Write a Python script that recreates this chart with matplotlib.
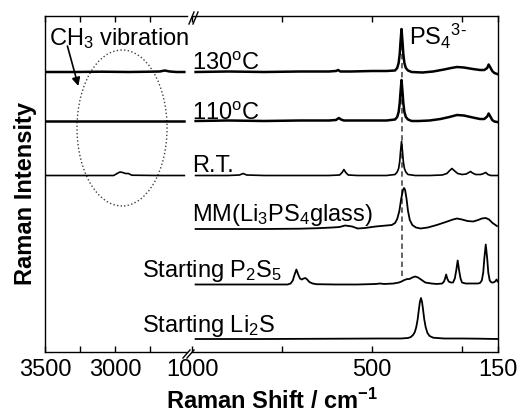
import numpy as np
import matplotlib
matplotlib.use('Agg')
import matplotlib.pyplot as plt
from matplotlib.patches import Ellipse
from matplotlib.lines import Line2D

plt.rcParams['font.family'] = ['Liberation Sans', 'DejaVu Sans']
plt.rcParams['mathtext.fontset'] = 'custom'
plt.rcParams['mathtext.rm'] = 'Liberation Sans'
plt.rcParams['mathtext.it'] = 'Liberation Sans:italic'
plt.rcParams['mathtext.bf'] = 'Liberation Sans:bold'

# ---- data (Raman shift in cm-1, intensity in arbitrary units above each baseline) ----
labels = ['130$^{\\mathrm{o}}$C', '110$^{\\mathrm{o}}$C', 'R.T.',
          'MM(Li$_3$PS$_4$glass)', 'Starting P$_2$S$_5$', 'Starting Li$_2$S']
offsets = [280, 231, 176.5, 123, 67.5, 13]

# high wavenumber part (C-H region), only the three heated/RT samples
hi_x130 = [3500, 3300, 3100, 2900, 2750, 2680, 2645, 2610, 2560, 2505]
hi_y130 = [0, 0, 0.3, 0, 0.3, 0.5, 1.5, 0.5, 0, 0]
hi_x110 = [3500, 3300, 3100, 2900, 2700, 2505]
hi_y110 = [0, 0, 0, 0, 0, 0]
hi_xrt = [3500, 3100, 3010, 2985, 2965, 2945, 2925, 2905, 2880, 2700, 2505]
hi_yrt = [0, 0, 0, 2, 3.5, 3, 2, 2, 0.3, 0, 0]

# low wavenumber part
x130 = [990, 900, 800, 700, 620, 600, 594, 588, 560, 500, 460, 436, 430, 426, 423, 421, 418, 415, 413,
        410, 406, 400, 390, 360, 330, 300, 280, 264, 245, 220, 200, 188, 180, 176, 172, 166, 160, 152]
y130 = [0, 0.5, 0, 0.5, 0.5, 1, 2, 0.5, 0.5, 1, 1, 1.5, 4, 9, 18, 29, 43, 29, 18,
        9, 4, 1.5, 0, -0.5, 0.5, 2.5, 4, 5, 4.5, 3, 2, 2, 4, 7.5, 5, 1, -1, -2]

x110 = [990, 900, 800, 700, 620, 600, 592, 586, 578, 540, 500, 460, 436, 430, 426, 423, 421, 418, 415,
        413, 410, 406, 400, 390, 370, 340, 310, 285, 264, 245, 220, 200, 188, 180, 176, 172, 166, 160, 152]
y110 = [0, 0.5, 0, 0.5, 0.5, 1, 3, 1.5, 0.5, 0.5, 0.5, 0.5, 1.5, 4, 9, 18, 28, 41, 28,
        18, 9, 4, 1.5, 0, 0, 0.5, 2, 4, 6, 5.5, 3.5, 2, 2, 4.5, 7.5, 5, 1, -0.5, -1]

xrt = [990, 900, 868, 858, 848, 800, 700, 620, 590, 583, 578, 573, 566, 540, 500, 460, 436, 430, 426,
       423, 421, 418, 415, 413, 410, 406, 400, 380, 340, 305, 292, 284, 278, 272, 262, 250, 238, 231,
       226, 221, 212, 198, 190, 184, 178, 170, 152]
yrt = [0, 0, 0.5, 2, 0.5, 0, 0, 0, 0.5, 3, 6, 3, 0.5, 0, 0, 0, 1, 3.5, 7,
       14, 23, 34, 23, 14, 7, 3.5, 1, 0, 0, 0.5, 2, 5, 7, 5, 2, 1, 1.5, 3,
       4, 2.5, 1, 1, 2, 3, 1, 0, 0]

xmm = [990, 900, 800, 700, 650, 610, 590, 575, 555, 540, 520, 490, 460, 445, 436, 430, 424, 419, 414,
       411, 408, 404, 400, 395, 388, 378, 365, 345, 320, 295, 275, 264, 250, 235, 219, 205, 195, 184,
       175, 165, 153]
ymm = [0, 0, 0, 0.3, 0.8, 1.5, 2, 3.5, 2.5, 0.5, 1, 2.5, 3.5, 4, 6, 10, 18, 30, 39,
       41, 39, 30, 18, 9, 4, 1.5, 0.5, 1.5, 4, 7, 9.5, 10.5, 9.5, 8, 7.5, 9, 10.5, 11,
       9.5, 6, 3]

xp2s5 = [990, 900, 800, 735, 726, 720, 715, 710, 705, 700, 695, 690, 685, 680, 674, 665, 654, 600,
         540, 490, 478, 466, 440, 425, 418, 410, 402, 396, 388, 380, 372, 362, 352, 335, 320, 305,
         300, 297, 294, 291, 287, 281, 275, 270, 266, 262, 258, 254, 250, 240, 220, 206, 200, 195,
         191, 188, 184, 180, 177, 173, 168, 163, 158, 154, 151]
yp2s5 = [0, 0, 0, 0, 1, 4, 10, 15, 10, 6, 5, 6, 6.5, 5, 2.5, 1, 0.3, 0,
         0, 0.5, 1, 0.5, 1, 2, 3, 4.5, 5.5, 5.5, 7, 8, 7, 4.5, 2, 1, 0.5, 1,
         3, 6, 10, 6, 3, 2, 2, 6, 14, 24, 14, 6, 2, 1, 1, 1, 1.5, 4,
         12, 26, 40, 26, 12, 4, 2, 2, 3, 5, 3]

xli2s = [990, 800, 600, 480, 420, 400, 392, 386, 381, 377, 373, 370, 367, 364, 361, 358, 355, 351,
         346, 340, 330, 300, 250, 200, 152]
yli2s = [0, 0, 0.3, 0.5, 0.5, 1, 2, 4, 7, 12, 20, 29, 37, 41, 37, 29, 20, 12,
         6, 3, 1.3, 0.5, 0.5, 0.3, 0]

ps4_shift = 418

hi_series = [(hi_x130, hi_y130), (hi_x110, hi_y110), (hi_xrt, hi_yrt)]
lo_series = [(x130, y130), (x110, y110), (xrt, yrt), (xmm, ymm), (xp2s5, yp2s5), (xli2s, yli2s)]
widths = [1.8, 1.8, 1.2, 1.3, 1.3, 1.3]

# ---- figure ----
W, H = 520, 414
fig = plt.figure(figsize=(W / 100, H / 100), dpi=100)
ax1 = fig.add_axes([45 / W, 1 - 353 / H, (187 - 45) / W, 336 / H])
ax2 = fig.add_axes([192 / W, 1 - 353 / H, (498 - 192) / W, 336 / H])
ax1.patch.set_visible(False)
ax2.patch.set_visible(False)

for i, (x, y) in enumerate(hi_series):
    ax1.plot(x, np.array(y) + offsets[i], color='k', lw=widths[i])
for i, (x, y) in enumerate(lo_series):
    ax2.plot(x, np.array(y) + offsets[i], color='k', lw=widths[i])

# dashed guide at the PS4 3- band
ax2.plot([ps4_shift, ps4_shift], [offsets[4] + 8.5, offsets[0] + 43], color='0.35',
         ls=(0, (3, 2)), lw=1.3, zorder=1)

ax1.set_xlim(3500, 2486)
ax2.set_xlim(1000, 150)
for ax in (ax1, ax2):
    ax.set_ylim(0, 336)
    ax.set_yticks([])
    ax.tick_params(axis='x', direction='in', top=True, length=4, width=1,
                   labelsize=17, pad=4)
    for s in ax.spines.values():
        s.set_linewidth(1.0)
ax1.spines['right'].set_visible(False)
ax2.spines['left'].set_visible(False)
ax1.set_xticks([3500, 3250, 3000, 2750])
ax1.set_xticklabels(['3500', '', '3000', ''])
ax2.set_xticks([1000, 750, 500, 250, 150])
ax2.set_xticklabels(['1000', '', '500', '', '150'])

# axis break marks
for (x0, y0, x1, y1) in [(189, 25, 194, 13), (193, 25, 198, 13),
                         (183, 359, 190, 351), (187, 359, 194, 351)]:
    fig.add_artist(Line2D([x0 / W, x1 / W], [1 - y0 / H, 1 - y1 / H],
                          transform=fig.transFigure, color='k', lw=1.0))

# sample labels
label_x = [999, 999, 999, 999, 1140, 1140]
label_y = [283, 233, 181, 132, 76, 21]
for lab, lx, ly in zip(labels, label_x, label_y):
    ax2.text(lx, ly, lab, fontsize=17, va='baseline', ha='left')
ax2.text(396, 308, 'PS$_4$$^{3\u2010}$', fontsize=17, va='baseline', ha='left')

# CH3 annotation
ax1.text(3471, 308, 'CH$_3$ vibration', fontsize=17, va='baseline', ha='left', zorder=5)
ax1.annotate('', xy=(3262, 266), xytext=(3340, 306),
             arrowprops=dict(arrowstyle='-|>', color='k', lw=1.2, mutation_scale=12,
                             shrinkA=0, shrinkB=0))
ax1.add_patch(Ellipse((2950, 224), 643, 156, fill=False, ls=':', lw=1.0,
                      edgecolor='0.25', clip_on=False))

fig.text(272 / W, 5 / H, 'Raman Shift / cm$^{\\mathbf{-1}}$', fontsize=17,
         fontweight='bold', ha='center', va='baseline')
fig.text(32 / W, 1 - 193.5 / H, 'Raman Intensity', fontsize=17, fontweight='bold',
         rotation=90, rotation_mode='anchor', ha='center', va='baseline')

fig.savefig('out.png', dpi=100)
